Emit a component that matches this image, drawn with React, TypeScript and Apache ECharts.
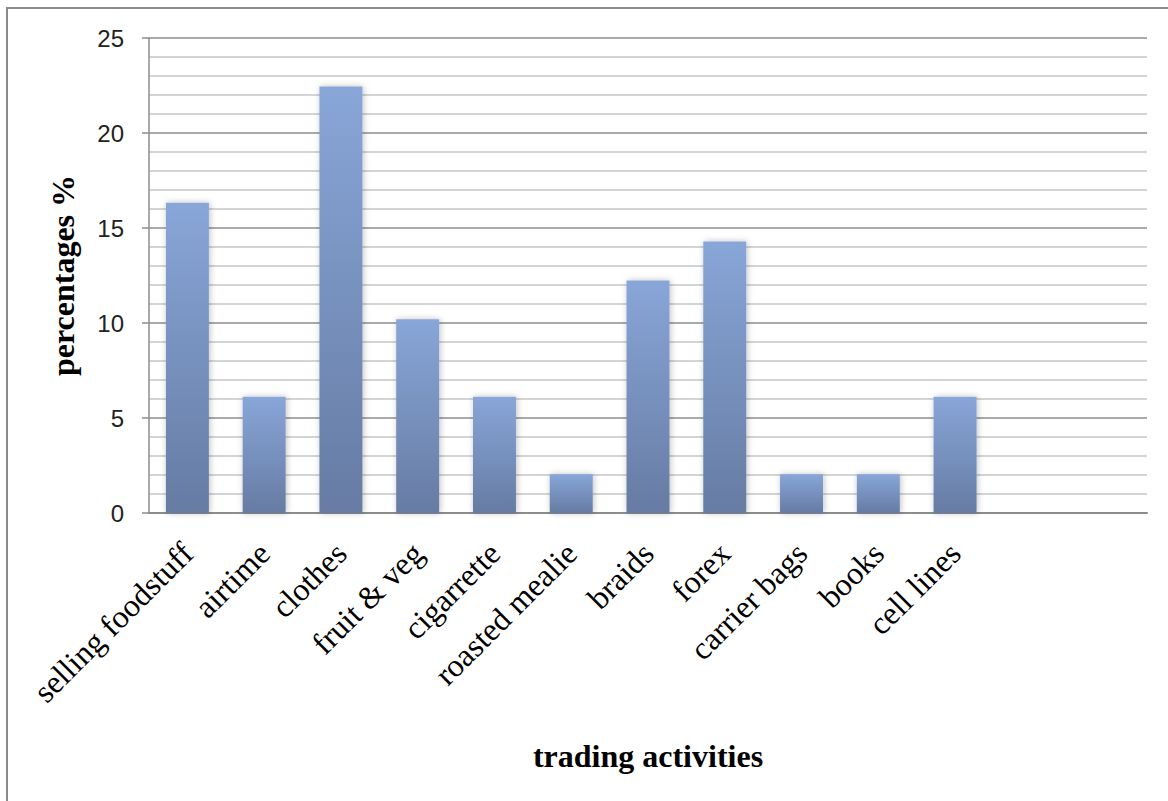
import React, { useEffect, useRef } from "react";
import * as echarts from "echarts";

// Share of respondents by trading activity (n = 49)
const categories = [
  "selling foodstuff",
  "airtime",
  "clothes",
  "fruit & veg",
  "cigarrette",
  "roasted mealie",
  "braids",
  "forex",
  "carrier bags",
  "books",
  "cell lines",
  "",
  "",
];
const percentages = [16.33, 6.12, 22.45, 10.2, 6.12, 2.04, 12.24, 14.29, 2.04, 2.04, 6.12, null, null];

const yMin = 0;
const yMax = 25;
const yStep = 5;

export default function App() {
  const ref = useRef<HTMLDivElement>(null);

  useEffect(() => {
    if (!ref.current) return;
    const chart = echarts.init(ref.current, undefined, { renderer: "svg" });
    chart.setOption({
      animation: false,
      backgroundColor: "#ffffff",
      graphic: [
        {
          type: "rect",
          shape: { x: 7, y: 8, width: 1300, height: 1000 },
          style: { fill: "none", stroke: "#8a8a8a", lineWidth: 2 },
          z: 0,
        },
      ],
      grid: { left: 149, right: 21, top: 38, bottom: 288 },
      xAxis: {
        type: "category",
        data: categories,
        name: "trading activities",
        nameLocation: "middle",
        nameGap: 227,
        nameTextStyle: {
          fontFamily: "Liberation Serif",
          fontWeight: "bold",
          fontSize: 32,
          color: "#000",
        },
        axisLine: { lineStyle: { color: "#8c8c8c", width: 2 } },
        axisTick: { show: false },
        axisLabel: {
          interval: 0,
          rotate: 45,
          margin: 35,
          fontFamily: "Liberation Serif",
          fontSize: 32,
          color: "#000",
        },
      },
      yAxis: {
        type: "value",
        min: yMin,
        max: yMax,
        interval: yStep,
        name: "percentages %",
        nameLocation: "middle",
        nameGap: 70,
        nameTextStyle: {
          fontFamily: "Liberation Serif",
          fontWeight: "bold",
          fontSize: 32,
          color: "#000",
        },
        axisLine: { show: true, lineStyle: { color: "#8c8c8c", width: 1.5 } },
        axisTick: { show: true, length: 7, lineStyle: { color: "#8c8c8c", width: 1.5 } },
        minorTick: { show: false, splitNumber: 5 },
        splitLine: { show: true, lineStyle: { color: "#8e8e8e", width: 1.5 } },
        minorSplitLine: { show: true, lineStyle: { color: "#c6c6c6", width: 1.5 } },
        axisLabel: {
          margin: 25,
          fontFamily: "Liberation Sans",
          fontSize: 24,
          color: "#222",
        },
      },
      series: [
        {
          type: "bar",
          data: percentages,
          barWidth: "56%",
          itemStyle: {
            color: new echarts.graphic.LinearGradient(0, 0, 0, 1, [
              { offset: 0, color: "#88a6d8" },
              { offset: 1, color: "#667ba3" },
            ]),
            shadowBlur: 6,
            shadowColor: "rgba(0,0,0,0.25)",
            shadowOffsetX: 1,
          },
        },
      ],
    });
    return () => chart.dispose();
  }, []);

  return (
    <div
      ref={ref}
      style={{ position: "fixed", left: 0, top: 0, width: 1168, height: 801 }}
    />
  );
}
